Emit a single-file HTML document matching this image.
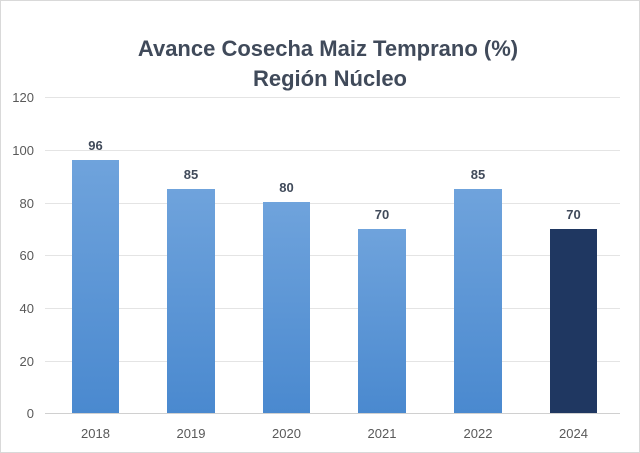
<!DOCTYPE html>
<html><head><style>
body{margin:0;background:#fff}
svg{display:block}
text{font-family:"Liberation Sans",sans-serif}
</style></head><body>
<svg width="640" height="453" viewBox="0 0 640 453">
<defs><linearGradient id="g" x1="0" y1="0" x2="0" y2="1"><stop offset="0" stop-color="#6fa3dc"/><stop offset="1" stop-color="#4a89cf"/></linearGradient></defs>
<rect x="0.5" y="0.5" width="639" height="452" fill="#fff" stroke="#d9d9d9"/>
<text x="328" y="56" text-anchor="middle" font-size="22" font-weight="bold" fill="#404a5a">Avance Cosecha Maiz Temprano (%)</text>
<text x="330" y="86" text-anchor="middle" font-size="22" font-weight="bold" fill="#404a5a">Región Núcleo</text>
<g stroke="#e4e4e4" stroke-width="1">
<line x1="45" x2="620" y1="97.5" y2="97.5"/><line x1="45" x2="620" y1="150.5" y2="150.5"/><line x1="45" x2="620" y1="203.5" y2="203.5"/><line x1="45" x2="620" y1="255.5" y2="255.5"/><line x1="45" x2="620" y1="308.5" y2="308.5"/><line x1="45" x2="620" y1="361.5" y2="361.5"/>
</g>
<line x1="45" x2="620" y1="413.5" y2="413.5" stroke="#d0d0d0"/>
<g font-size="13" fill="#595959" text-anchor="end">
<text x="34" y="102">120</text><text x="34" y="155">100</text><text x="34" y="208">80</text><text x="34" y="260">60</text><text x="34" y="313">40</text><text x="34" y="366">20</text><text x="34" y="418">0</text>
</g>
<g fill="url(#g)">
<rect x="72" y="160" width="47" height="253"/>
<rect x="167" y="189" width="48" height="224"/>
<rect x="263" y="202" width="47" height="211"/>
<rect x="358" y="229" width="48" height="184"/>
<rect x="454" y="189" width="48" height="224"/>
</g>
<rect x="550" y="229" width="47" height="184" fill="#1f3761"/>
<g font-size="13" font-weight="bold" fill="#404a5a" text-anchor="middle">
<text x="95.5" y="150">96</text><text x="191" y="179">85</text><text x="286.5" y="192">80</text><text x="382" y="219">70</text><text x="478" y="179">85</text><text x="573.5" y="219">70</text>
</g>
<g font-size="13" fill="#595959" text-anchor="middle">
<text x="95.5" y="438">2018</text><text x="191" y="438">2019</text><text x="286.5" y="438">2020</text><text x="382" y="438">2021</text><text x="478" y="438">2022</text><text x="573.5" y="438">2024</text>
</g>
</svg>
</body></html>
